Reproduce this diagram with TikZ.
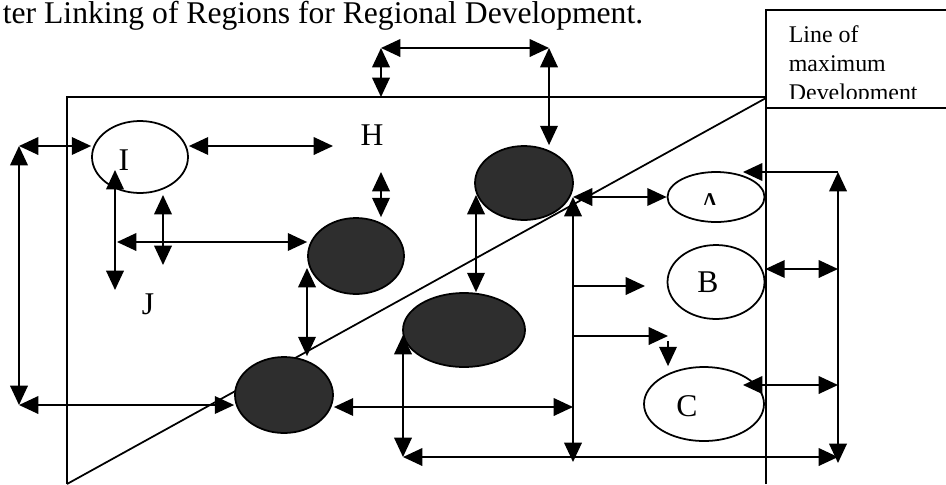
\documentclass[tikz,border=0pt]{standalone}
\usepackage{fontspec}
\setmainfont{Liberation Serif}
\usepackage{tikz}
\usetikzlibrary{shapes.geometric}
\usetikzlibrary{arrows.meta}
\tikzset{>={Triangle[length=11pt,width=10pt]}}
\tikzset{region/.style={ellipse, draw, line width=1pt, inner sep=0pt}}
\tikzset{hub/.style={region, fill=black!82}}
\tikzset{regname/.style={inner sep=0pt, font=\fontsize{18}{20}\selectfont}}

\begin{document}
\begin{tikzpicture}[x=0.02cm, y=-0.02cm, line width=1pt]
\useasboundingbox (0,0) rectangle (946,484);
\node (title) at (2,23) [anchor=base west, inner sep=0pt, font=\fontsize{18}{20}\selectfont] {ter Linking of Regions for Regional Development.};
% frame, box and line of maximum development
\draw (67,484) -- (67,97) -- (766,97);
\draw (766,484) -- (766,10) -- (946,10);
\draw (766,108) -- (946,108);
\draw (67,484) -- (766,98);
\begin{scope}
\clip (768,12) rectangle (946,98);
\node (lmd) at (788,100) [anchor=base west, align=left, inner sep=0pt, font=\fontsize{13.6}{16.5}\selectfont] {Line of\\maximum\\Development};
\end{scope}
% regions
\node (I) at (140,157) [region, minimum width=1.92cm, minimum height=1.44cm] {};
\node (hubH) at (356,256) [hub, minimum width=1.92cm, minimum height=1.52cm] {};
\node (hubtop) at (524,183) [hub, minimum width=1.96cm, minimum height=1.48cm] {};
\node (hubmid) at (464,330) [hub, minimum width=2.44cm, minimum height=1.48cm] {};
\node (hublow) at (284,395) [hub, minimum width=1.96cm, minimum height=1.52cm] {};
\node (A) at (716,197) [region, minimum width=1.94cm, minimum height=1.0cm] {};
\node (B) at (716,282) [region, minimum width=1.94cm, minimum height=1.48cm] {};
\node (C) at (704,404) [region, minimum width=2.4cm, minimum height=1.48cm] {};
\node (Iname) at (124,160) [regname] {I};
\node (Hname) at (372,135) [regname] {H};
\node (Jname) at (148,304) [regname] {J};
\node (Bname) at (708,282) [regname] {B};
\node (Cname) at (687,406) [regname] {C};
\begin{scope}
\clip (690,188) rectangle (730,204);
\node (Aname) at (710,214) [regname, anchor=base] {A};
\end{scope}
% top bracket
\coordinate (Htop) at (381,97);
\coordinate (cornerL) at (381,48);
\coordinate (cornerR) at (549,48);
\draw[<->] (Htop) -- (cornerL);
\draw[<->] (cornerL) -- (cornerR);
\draw[<->] (cornerR) -- (cornerR |- hubtop.north);
% left bracket
\coordinate (farNW) at (19,146);
\coordinate (farSW) at (19,405);
\draw[<->] (farNW) -- (farNW -| I.west);
\draw[<->] (farNW) -- (farSW);
\draw[<->] (farSW) -- (farSW -| hublow.west);
% around I, H and J
\coordinate (Hwest) at (333,146);
\coordinate (Hsouth) at (381,172);
\draw[<->] (I.east |- Hwest) -- (Hwest);
\draw[<->] (Hsouth) -- (Hsouth |- hubH.north);
\coordinate (Istem) at (115,170);
\coordinate (Ifoot) at (115,290);
\draw[<->] (Istem) -- (Ifoot);
\coordinate (Jtop) at (163,195);
\coordinate (Jbot) at (163,265);
\draw[<->] (Jtop) -- (Jbot);
\coordinate (Jwest) at (117,242);
\draw[<->] (Jwest) -- (Jwest -| hubH.west);
\coordinate (hubHfoot) at (307,268);
\draw[<->] (hubHfoot) -- (hubHfoot |- hublow.north);
% spine on the developed side
\coordinate (spineA) at (573,197);
\coordinate (spineB) at (573,462);
\coordinate (spineC) at (573,407);
\coordinate (spineD) at (573,286);
\coordinate (spineE) at (573,336);
\coordinate (toB) at (645,286);
\coordinate (toC) at (668,336);
\coordinate (Cstub) at (668,341);
\draw[<->] (hublow.east |- spineC) -- (spineC);
\draw[<->] (spineA) -- (spineB);
\draw[<->] (spineA) -- (A.west);
\draw[->] (spineD) -- (toB);
\draw[->] (spineE) -- (toC);
\draw[->] (Cstub) -- (Cstub |- C.north);
\coordinate (topfoot) at (476,195);
\draw[<->] (topfoot) -- (topfoot |- hubmid.north);
% bottom bracket
\coordinate (midfoot) at (403,335);
\coordinate (baseW) at (403,457);
\coordinate (baseE) at (838,457);
\draw[<->] (midfoot) -- (baseW);
\draw[<->] (baseW) -- (baseE);
% right bracket
\coordinate (farNE) at (838,172);
\coordinate (farSE) at (838,463);
\coordinate (Atip) at (743,172);
\coordinate (Bout) at (838,269);
\coordinate (Cout) at (838,385);
\coordinate (Cin) at (743,385);
\draw[->] (farNE) -- (Atip);
\draw[<->] (farNE) -- (farSE);
\draw[<->] (Bout -| B.east) -- (Bout);
\draw[<->] (Cin) -- (Cout);
\end{tikzpicture}
\end{document}
